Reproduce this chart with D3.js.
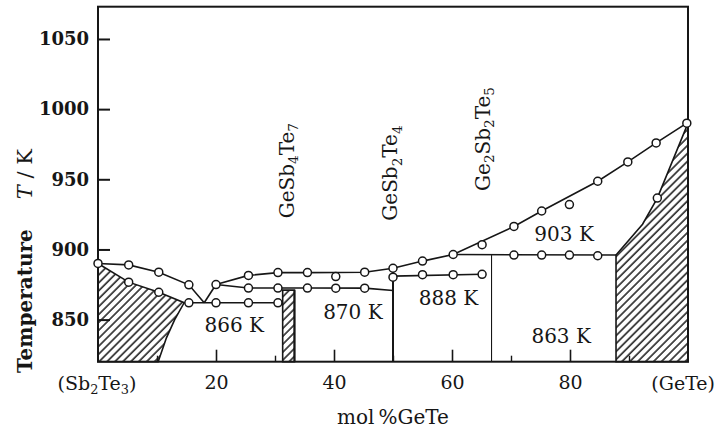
<!DOCTYPE html>
<html>
<head>
<meta charset="utf-8">
<script src="https://cdn.jsdelivr.net/npm/d3@7"></script>
<style>
  html, body { margin: 0; padding: 0; background: #fff; }
  svg { display: block; }
</style>
</head>
<body>
<div id="chart"></div>
<script>
// Sb2Te3–GeTe phase diagram: [mol% GeTe, T (K)]
const liquidusLeft = [[0, 890], [5.2, 889], [10.3, 883.8], [15.4, 874.8], [18, 862]]
const solidusLeft = [[0, 890], [5.2, 876.7], [10.3, 869.5], [14.6, 862]]
const solvusLeft = [[14.6, 862], [13, 850], [11.6, 837], [10.2, 820]]
const eutectic = [[14.6, 862], [31.3, 862]]
const branchRise = [[18, 862], [20, 875]]
const upperBranch = [[20, 875], [25.5, 881.5], [30.5, 883.5], [35.5, 883.5], [45.2, 883.8], [50, 886.6]]
const middleBranch = [[20, 875], [25.5, 872.5], [35.5, 872.5], [45.2, 872.4], [50, 870.7]]
const liquidusRight = [[50, 886.6], [55, 891.7], [60.2, 896.4], [70.5, 916.4], [75.2, 927.4],
  [84.7, 948.6], [89.8, 962.4], [94.6, 975.9], [99.8, 990]]
const line888 = [[50, 881], [65.1, 882.3]]
const line903 = [[60.2, 896.4], [87.8, 896]]
const solidusRight = [[87.8, 896], [92.3, 918], [94.8, 936.6], [100, 990]]
const smallPhase = [[31.3, 820], [31.3, 871], [33.3, 871], [33.3, 820]]
const compoundWalls = [[33.3, 871], [50, 886.6], [66.7, 896]]

const liquidusPoints = [[0, 890], [5.2, 889], [10.3, 883.8], [15.4, 874.8], [20, 875],
  [25.5, 881.5], [30.5, 883.5], [35.5, 883.5], [40.3, 880.7], [45.2, 883.8], [50, 886.6],
  [55, 891.7], [60.2, 896.4], [65.1, 903.4], [70.5, 916.4], [75.2, 927.4], [79.9, 932],
  [84.7, 948.6], [89.8, 962.4], [94.6, 975.9], [99.8, 990]]
const solidusPoints = [[5.2, 876.7], [10.3, 869.5], [15.4, 862], [20, 862], [25.5, 862], [30.5, 862],
  [25.5, 872.5], [30.5, 872.5], [35.5, 872.5], [40.3, 872.4], [45.2, 872.4],
  [50, 880.2], [55, 882], [60.2, 882], [65.1, 882.3],
  [70.5, 896], [75.2, 896], [79.9, 896], [84.7, 895.5], [94.8, 936.6]]

const xTicks = [20, 40, 60, 80]
const xMinorTicks = [10, 30, 50, 70, 90]
const yTicks = [850, 900, 950, 1000, 1050]

// [mol%, K, text]
const regionLabels = [[23.1, 841, "866 K"], [43.2, 850.4, "870 K"], [59.4, 860.4, "888 K"],
  [79, 906, "903 K"], [78.5, 833.1, "863 K"]]
// [mol%, K, parts] -- parts: [text, isSubscript]
const compoundLabels = [
  [33.2, 922.2, [["GeSb", 0], ["4", 1], ["Te", 0], ["7", 1]]],
  [50.7, 920.5, [["GeSb", 0], ["2", 1], ["Te", 0], ["4", 1]]],
  [66.4, 941.7, [["Ge", 0], ["2", 1], ["Sb", 0], ["2", 1], ["Te", 0], ["5", 1]]]
]

const W = 717, H = 429
const margin = { top: 6.7, right: 29, bottom: 67.3, left: 98 }
const ink = "#161616"
const serif = "'DejaVu Serif', serif"

const svg = d3.select("#chart").append("svg")
  .attr("width", W)
  .attr("height", H)
  .style("background", "#fff")

const x = d3.scaleLinear().domain([0, 100]).range([margin.left, W - margin.right])
const y = d3.scaleLinear().domain([820, 1073]).range([H - margin.bottom, margin.top])

const defs = svg.append("defs")
const hatch = defs.append("pattern")
  .attr("id", "hatch")
  .attr("patternUnits", "userSpaceOnUse")
  .attr("width", 5.6)
  .attr("height", 5.6)
  .attr("patternTransform", "rotate(45)")
hatch.append("line")
  .attr("x1", 1).attr("y1", 0).attr("x2", 1).attr("y2", 5.6)
  .attr("stroke", ink).attr("stroke-width", 1.5)

const line = d3.line().x(d => x(d[0])).y(d => y(d[1]))

// hatched single-phase regions
const leftRegion = solidusLeft.concat(solvusLeft.slice(1), [[0, 820]])
const rightRegion = [[87.8, 820]].concat(solidusRight, [[100, 820]])
for (const poly of [leftRegion, rightRegion, smallPhase]) {
  svg.append("path")
    .attr("d", line(poly) + "Z")
    .attr("fill", "url(#hatch)")
    .attr("stroke", ink)
    .attr("stroke-width", 1.6)
}

// phase boundaries
const curves = [
  [liquidusLeft, 1.6], [eutectic, 1.6], [branchRise, 1.6], [upperBranch, 1.6],
  [middleBranch, 1.6], [liquidusRight, 1.6], [line888, 1.6], [line903, 1.4]
]
for (const [pts, w] of curves) {
  svg.append("path")
    .attr("d", line(pts))
    .attr("fill", "none")
    .attr("stroke", ink)
    .attr("stroke-width", w)
}

svg.selectAll(".wall")
  .data(compoundWalls)
  .enter()
  .append("line")
  .attr("class", "wall")
  .attr("x1", d => x(d[0]))
  .attr("x2", d => x(d[0]))
  .attr("y1", y(820))
  .attr("y2", d => y(d[1]))
  .attr("stroke", ink)
  .attr("stroke-width", (d, i) => i === 2 ? 1.1 : 2)

// axes box
svg.append("rect")
  .attr("x", x(0))
  .attr("y", y(1073))
  .attr("width", x(100) - x(0))
  .attr("height", y(820) - y(1073))
  .attr("fill", "none")
  .attr("stroke", ink)
  .attr("stroke-width", 2)

const yAxis = svg.append("g")
  .attr("transform", `translate(${x(0)},0)`)
  .call(d3.axisLeft(y).tickValues(yTicks).tickFormat(d3.format("d"))
    .tickSize(-12).tickSizeOuter(0).tickPadding(9))
yAxis.select(".domain").remove()
yAxis.selectAll("line").attr("stroke", ink).attr("stroke-width", 2)
yAxis.selectAll("text")
  .attr("fill", ink)
  .style("font-family", serif)
  .style("font-size", "18px")
  .style("font-weight", "bold")

const xAxis = svg.append("g")
  .attr("transform", `translate(0,${y(820)})`)
  .call(d3.axisBottom(x).tickValues(xTicks).tickSize(-12).tickSizeOuter(0).tickPadding(14))
xAxis.select(".domain").remove()
xAxis.selectAll("line").attr("stroke", ink).attr("stroke-width", 1.6)
xAxis.selectAll("text")
  .attr("fill", ink)
  .style("font-family", serif)
  .style("font-size", "19px")

const xMinor = svg.append("g")
  .attr("transform", `translate(0,${y(820)})`)
  .call(d3.axisBottom(x).tickValues(xMinorTicks).tickSize(-6).tickSizeOuter(0).tickFormat(""))
xMinor.select(".domain").remove()
xMinor.selectAll("line").attr("stroke", ink).attr("stroke-width", 1.4)

// text pieces with subscripts
function addParts(textSel, parts, size) {
  let prevSub = 0
  for (const [t, sub] of parts) {
    textSel.append("tspan")
      .attr("dy", sub === prevSub ? 0 : (sub ? size * 0.22 : -size * 0.22))
      .style("font-size", sub ? (size * 0.68) + "px" : size + "px")
      .text(t)
    prevSub = sub
  }
}

const baseY = y(820) + 28.3
const leftEnd = svg.append("text")
  .attr("x", x(0) - 1)
  .attr("y", baseY)
  .attr("text-anchor", "middle")
  .attr("fill", ink)
  .style("font-family", serif)
  .style("font-size", "19px")
addParts(leftEnd, [["(Sb", 0], ["2", 1], ["Te", 0], ["3", 1], [")", 0]], 19)

svg.append("text")
  .attr("x", W - 2)
  .attr("y", baseY)
  .attr("text-anchor", "end")
  .attr("fill", ink)
  .style("font-family", serif)
  .style("font-size", "19px")
  .text("(GeTe)")

svg.append("text")
  .attr("x", x(50))
  .attr("y", 424)
  .attr("text-anchor", "middle")
  .attr("fill", ink)
  .style("font-family", serif)
  .style("font-size", "20px")
  .text("mol\u2009%GeTe")

// y title
const yTitle = svg.append("text")
  .attr("transform", "translate(32,373) rotate(-90)")
  .attr("fill", ink)
  .style("font-family", serif)
  .style("font-size", "20px")
  .style("font-weight", "bold")
yTitle.append("tspan").text("Temperature")
yTitle.append("tspan").attr("dx", 30)
  .style("font-style", "italic").style("font-weight", "normal").style("font-size", "21px").text("T")
yTitle.append("tspan").style("font-weight", "normal").style("font-size", "21px").text(" / K")

// region labels
svg.selectAll(".region-label")
  .data(regionLabels)
  .enter()
  .append("text")
  .attr("class", "region-label")
  .attr("x", d => x(d[0]))
  .attr("y", d => y(d[1]))
  .attr("text-anchor", "middle")
  .attr("fill", ink)
  .style("font-family", serif)
  .style("font-size", "20px")
  .text(d => d[2])

// compound labels (vertical)
for (const [c, t, parts] of compoundLabels) {
  const label = svg.append("text")
    .attr("transform", `translate(${x(c)},${y(t)}) rotate(-90)`)
    .attr("fill", ink)
    .style("font-family", serif)
    .style("font-size", "20px")
  addParts(label, parts, 20)
}

// measured points: open circles
svg.selectAll(".pt")
  .data(liquidusPoints.concat(solidusPoints))
  .enter()
  .append("circle")
  .attr("class", "pt")
  .attr("cx", d => x(d[0]))
  .attr("cy", d => y(d[1]))
  .attr("r", 4)
  .attr("fill", "#fff")
  .attr("stroke", ink)
  .attr("stroke-width", 1.5)
</script>
</body>
</html>
